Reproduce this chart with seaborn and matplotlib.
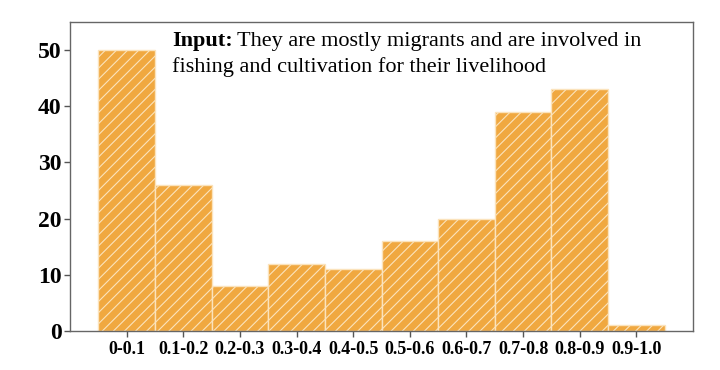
import matplotlib
matplotlib.use("Agg")
import matplotlib.pyplot as plt
import seaborn as sns
import pandas as pd

categories = ["0-0.1", "0.1-0.2", "0.2-0.3", "0.3-0.4", "0.4-0.5",
              "0.5-0.6", "0.6-0.7", "0.7-0.8", "0.8-0.9", "0.9-1.0"]
counts = [50, 26, 8, 12, 11, 16, 20, 39, 43, 1]
yticks = [0, 10, 20, 30, 40, 50]

sns.set_style("white")
plt.rcParams['font.family'] = ['Liberation Serif', 'DejaVu Serif']
plt.rcParams['hatch.linewidth'] = 0.8
plt.rcParams['text.color'] = 'black'
plt.rcParams['xtick.color'] = 'black'
plt.rcParams['ytick.color'] = 'black'

df = pd.DataFrame({"range": categories, "count": counts})

fig = plt.figure(figsize=(7.2, 3.7), dpi=100)
ax = fig.add_axes([70/720, 1-331/370, (693-70)/720, (331-22)/370])

sns.barplot(data=df, x="range", y="count", ax=ax, color="#F0A840",
            width=1.0, saturation=1, edgecolor="white", linewidth=1)
for p in ax.patches:
    p.set_hatch("///")
    p.set_edgecolor("#FBE3BC")

ax.set_xlim(-1, 10)
ax.set_ylim(0, 55)
ax.set_yticks(yticks)
ax.set_xlabel("")
ax.set_ylabel("")
ax.tick_params(axis="y", labelsize=17, length=4, width=1, color="#555555",
               labelcolor="black", left=True, pad=2)
ax.tick_params(axis="x", labelsize=13, length=4, width=1, color="#555555",
               labelcolor="black", bottom=True, pad=3)
for lbl in ax.get_yticklabels() + ax.get_xticklabels():
    lbl.set_fontweight("bold")
for s in ax.spines.values():
    s.set_color("#666666")
    s.set_linewidth(1)

t1 = fig.text(172/720, 1-46/370, "Input:", fontsize=16, fontweight="bold",
              color="black", ha="left", va="baseline")
fig.canvas.draw()
bb = t1.get_window_extent()
fig.text((bb.x1 + 4)/720, 1-46/370, "They are mostly migrants and are involved in",
         fontsize=16, color="black", ha="left", va="baseline")
fig.text(172/720, 1-72/370, "fishing and cultivation for their livelihood",
         fontsize=16, color="black", ha="left", va="baseline")

fig.savefig("out.png", dpi=100)
